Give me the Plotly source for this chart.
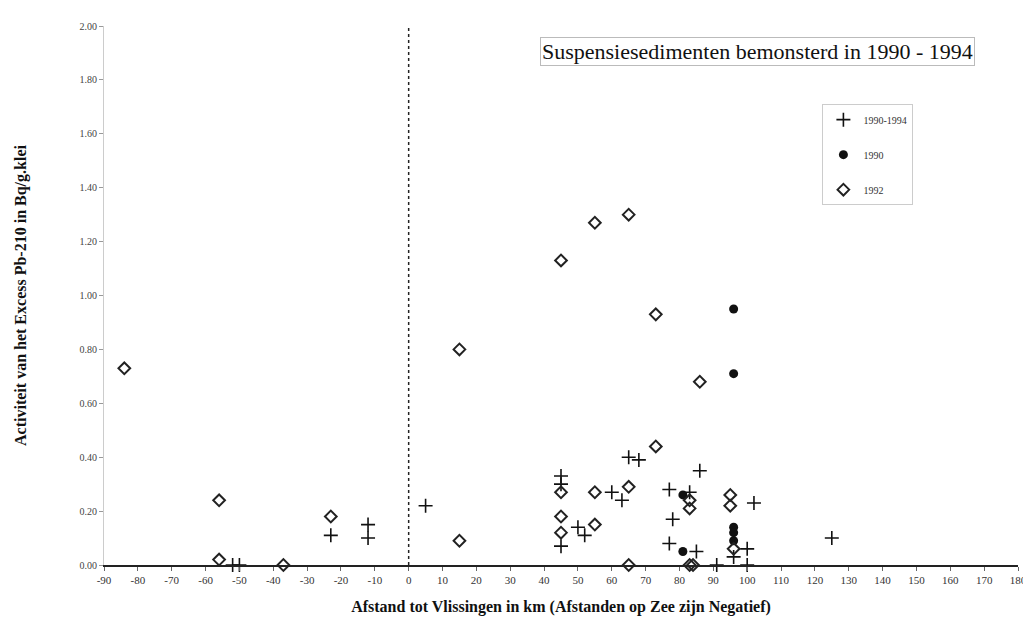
import plotly.graph_objects as go

# 1990-1994 samples (plus)
x_9094 = [-52, -50, -23, -12, -12, 5, 45, 45, 45, 50, 52, 60, 63, 65, 68, 77, 78, 77, 83, 86, 85, 91, 96, 100, 100, 102, 125]
y_9094 = [0.0, 0.0, 0.11, 0.15, 0.10, 0.22, 0.33, 0.30, 0.07, 0.14, 0.11, 0.27, 0.24, 0.40, 0.39, 0.28, 0.17, 0.08, 0.27, 0.35, 0.05, 0.0, 0.03, 0.06, 0.0, 0.23, 0.10]

# 1990 samples (filled)
x_1990 = [96, 96, 81, 81, 96, 96, 96]
y_1990 = [0.95, 0.71, 0.26, 0.05, 0.14, 0.12, 0.09]

# 1992 samples (open)
x_1992 = [-84, -56, -56, -37, -23, 15, 15, 45, 55, 65, 73, 86, 73, 45, 45, 45, 55, 55, 65, 65, 83, 83, 83, 84, 95, 95, 96]
y_1992 = [0.73, 0.24, 0.02, 0.0, 0.18, 0.80, 0.09, 1.13, 1.27, 1.30, 0.93, 0.68, 0.44, 0.27, 0.18, 0.12, 0.27, 0.15, 0.29, 0.0, 0.24, 0.21, 0.0, 0.0, 0.26, 0.22, 0.06]

x_ticks = list(range(-90, 181, 10))
x_labels = [str(v) for v in x_ticks]  # plain hyphen like the original
y_ticks = [i * 0.2 for i in range(11)]

serif = "Liberation Serif, Times New Roman, serif"

fig = go.Figure()
fig.add_trace(go.Scatter(x=x_9094, y=y_9094, mode="markers", name="1990-1994",
                         legendgroup="a", cliponaxis=False,
                         marker=dict(symbol="cross-thin", size=10, line=dict(color="#111", width=1.6))))
fig.add_trace(go.Scatter(x=x_1990, y=y_1990, mode="markers", name="1990",
                         legendgroup="b", cliponaxis=False,
                         marker=dict(symbol="circle", size=9, color="#111")))
fig.add_trace(go.Scatter(x=x_1992, y=y_1992, mode="markers", name="1992",
                         legendgroup="c", cliponaxis=False,
                         marker=dict(symbol="diamond-open", size=9, color="#222", line=dict(width=2))))

# dotted line at 0 km (Vlissingen)
fig.add_shape(type="line", x0=0, x1=0, y0=0, y1=2.0, xref="x", yref="y",
              line=dict(color="#222", width=1.5, dash="dot"))

fig.add_annotation(text="Suspensiesedimenten bemonsterd in 1990 - 1994",
                   xref="paper", yref="paper", x=0.477, y=0.98, xanchor="left", yanchor="top",
                   showarrow=False, font=dict(family=serif, size=22, color="#111"),
                   bordercolor="#bbb", borderwidth=1, borderpad=1, bgcolor="white")

fig.update_layout(
    width=1031, height=644,
    margin=dict(l=94, r=18, t=14, b=87),
    paper_bgcolor="white", plot_bgcolor="white",
    font=dict(family=serif, color="#222"),
    showlegend=True,
    legend=dict(x=0.786, y=0.855, xanchor="left", yanchor="top",
                bordercolor="#ccc", borderwidth=1, bgcolor="white",
                font=dict(family=serif, size=10, color="#333"),
                tracegroupgap=16, traceorder="grouped"),
    xaxis=dict(range=[-90, 180], tickvals=x_ticks, ticktext=x_labels, ticks="outside", ticklen=4,
               tickcolor="#666", showgrid=False, zeroline=False,
               showline=True, linecolor="#222", linewidth=1.5,
               tickfont=dict(family=serif, size=11, color="#333"),
               title=dict(text="<b>Afstand tot Vlissingen in km (Afstanden op Zee zijn Negatief)</b>",
                          font=dict(family=serif, size=16, color="#111"), standoff=16)),
    yaxis=dict(range=[0, 2.0], tickvals=y_ticks, tickformat=".2f", ticks="outside", ticklen=4,
               tickcolor="#999", showgrid=False, zeroline=False,
               showline=True, linecolor="#ccc", linewidth=1,
               tickfont=dict(family=serif, size=10, color="#444"),
               title=dict(text="<b>Activiteit van het Excess Pb-210 in Bq/g.klei</b>",
                          font=dict(family=serif, size=16, color="#111"), standoff=48)),
)

fig.write_html("out.html")
